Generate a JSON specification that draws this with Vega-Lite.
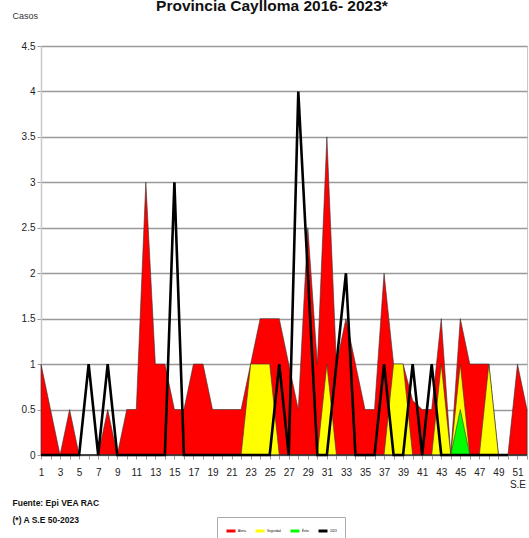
{
  "$schema": "https://vega.github.io/schema/vega-lite/v6.json",
  "width": 486,
  "height": 409,
  "autosize": {"type": "none"},
  "padding": {"left": 41, "top": 46, "right": 2, "bottom": 83},
  "background": "white",
  "title": {
    "text": "Provincia Caylloma 2016- 2023*",
    "font": "Liberation Sans Narrow, Arial Narrow, Liberation Sans, sans-serif",
    "fontSize": 15.5,
    "fontWeight": "bold",
    "color": "#111",
    "anchor": "middle",
    "dx": -12,
    "dy": 3,
    "offset": 0
  },
  "config": {
    "view": {"stroke": "#c8c8c8", "strokeWidth": 1},
    "font": "Liberation Sans Narrow, Arial Narrow, Liberation Sans, sans-serif"
  },
  "data": {
    "values": [
      {"semana": 1, "Alerta": 1, "Seguridad": 0, "Exito": 0, "Casos": 0},
      {"semana": 2, "Alerta": 0.5, "Seguridad": 0, "Exito": 0, "Casos": 0},
      {"semana": 3, "Alerta": 0, "Seguridad": 0, "Exito": 0, "Casos": 0},
      {"semana": 4, "Alerta": 0.5, "Seguridad": 0, "Exito": 0, "Casos": 0},
      {"semana": 5, "Alerta": 0, "Seguridad": 0, "Exito": 0, "Casos": 0},
      {"semana": 6, "Alerta": 0, "Seguridad": 0, "Exito": 0, "Casos": 1},
      {"semana": 7, "Alerta": 0, "Seguridad": 0, "Exito": 0, "Casos": 0},
      {"semana": 8, "Alerta": 0.5, "Seguridad": 0, "Exito": 0, "Casos": 1},
      {"semana": 9, "Alerta": 0, "Seguridad": 0, "Exito": 0, "Casos": 0},
      {"semana": 10, "Alerta": 0.5, "Seguridad": 0, "Exito": 0, "Casos": 0},
      {"semana": 11, "Alerta": 0.5, "Seguridad": 0, "Exito": 0, "Casos": 0},
      {"semana": 12, "Alerta": 3, "Seguridad": 0, "Exito": 0, "Casos": 0},
      {"semana": 13, "Alerta": 1, "Seguridad": 0, "Exito": 0, "Casos": 0},
      {"semana": 14, "Alerta": 1, "Seguridad": 0, "Exito": 0, "Casos": 0},
      {"semana": 15, "Alerta": 0.5, "Seguridad": 0, "Exito": 0, "Casos": 3},
      {"semana": 16, "Alerta": 0.5, "Seguridad": 0, "Exito": 0, "Casos": 0},
      {"semana": 17, "Alerta": 1, "Seguridad": 0, "Exito": 0, "Casos": 0},
      {"semana": 18, "Alerta": 1, "Seguridad": 0, "Exito": 0, "Casos": 0},
      {"semana": 19, "Alerta": 0.5, "Seguridad": 0, "Exito": 0, "Casos": 0},
      {"semana": 20, "Alerta": 0.5, "Seguridad": 0, "Exito": 0, "Casos": 0},
      {"semana": 21, "Alerta": 0.5, "Seguridad": 0, "Exito": 0, "Casos": 0},
      {"semana": 22, "Alerta": 0.5, "Seguridad": 0, "Exito": 0, "Casos": 0},
      {"semana": 23, "Alerta": 1, "Seguridad": 1, "Exito": 0, "Casos": 0},
      {"semana": 24, "Alerta": 1.5, "Seguridad": 1, "Exito": 0, "Casos": 0},
      {"semana": 25, "Alerta": 1.5, "Seguridad": 1, "Exito": 0, "Casos": 0},
      {"semana": 26, "Alerta": 1.5, "Seguridad": 0, "Exito": 0, "Casos": 1},
      {"semana": 27, "Alerta": 1, "Seguridad": 0, "Exito": 0, "Casos": 0},
      {"semana": 28, "Alerta": 0.5, "Seguridad": 0, "Exito": 0, "Casos": 4},
      {"semana": 29, "Alerta": 2.5, "Seguridad": 0, "Exito": 0, "Casos": 2},
      {"semana": 30, "Alerta": 1, "Seguridad": 0, "Exito": 0, "Casos": 0},
      {"semana": 31, "Alerta": 3.5, "Seguridad": 1, "Exito": 0, "Casos": 0},
      {"semana": 32, "Alerta": 1, "Seguridad": 0, "Exito": 0, "Casos": 1},
      {"semana": 33, "Alerta": 1.5, "Seguridad": 0, "Exito": 0, "Casos": 2},
      {"semana": 34, "Alerta": 1, "Seguridad": 0, "Exito": 0, "Casos": 0},
      {"semana": 35, "Alerta": 0.5, "Seguridad": 0, "Exito": 0, "Casos": 0},
      {"semana": 36, "Alerta": 0.5, "Seguridad": 0, "Exito": 0, "Casos": 0},
      {"semana": 37, "Alerta": 2, "Seguridad": 0, "Exito": 0, "Casos": 1},
      {"semana": 38, "Alerta": 1, "Seguridad": 1, "Exito": 0, "Casos": 0},
      {"semana": 39, "Alerta": 1, "Seguridad": 1, "Exito": 0, "Casos": 0},
      {"semana": 40, "Alerta": 0.6, "Seguridad": 0, "Exito": 0, "Casos": 1},
      {"semana": 41, "Alerta": 0.5, "Seguridad": 0, "Exito": 0, "Casos": 0},
      {"semana": 42, "Alerta": 0.5, "Seguridad": 0, "Exito": 0, "Casos": 1},
      {"semana": 43, "Alerta": 1.5, "Seguridad": 1, "Exito": 0, "Casos": 0},
      {"semana": 44, "Alerta": 0, "Seguridad": 0, "Exito": 0, "Casos": 0},
      {"semana": 45, "Alerta": 1.5, "Seguridad": 1, "Exito": 0.5, "Casos": 0},
      {"semana": 46, "Alerta": 1, "Seguridad": 0, "Exito": 0, "Casos": 0},
      {"semana": 47, "Alerta": 1, "Seguridad": 0, "Exito": 0, "Casos": 0},
      {"semana": 48, "Alerta": 1, "Seguridad": 1, "Exito": 0, "Casos": 0},
      {"semana": 49, "Alerta": 0, "Seguridad": 0, "Exito": 0, "Casos": 0},
      {"semana": 50, "Alerta": 0, "Seguridad": 0, "Exito": 0, "Casos": 0},
      {"semana": 51, "Alerta": 1, "Seguridad": 0, "Exito": 0},
      {"semana": 52, "Alerta": 0.5, "Seguridad": 0, "Exito": 0}
    ]
  },
  "encoding": {
    "x": {
      "field": "semana",
      "type": "quantitative",
      "scale": {"domain": [1, 52], "nice": false, "zero": false},
      "axis": {
        "values": [1,2,3,4,5,6,7,8,9,10,11,12,13,14,15,16,17,18,19,20,21,22,23,24,25,26,27,28,29,30,31,32,33,34,35,36,37,38,39,40,41,42,43,44,45,46,47,48,49,50,51,52],
        "labelExpr": "datum.value == 51 ? ['51', 'S.E'] : (datum.value % 2 == 1 ? datum.label : '')",
        "labelOverlap": false,
        "labelFlush": false,
        "labelFontSize": 10,
        "labelColor": "#222",
        "labelPadding": 8,
        "labelLineHeight": 12,
        "labelBaseline": "top",
        "tickSize": 4,
        "tickColor": "#999",
        "domain": false,
        "grid": false,
        "title": ["Fuente: Epi VEA RAC", "(*) A S.E 50-2023"],
        "titleAnchor": "start",
        "titleAlign": "left",
        "titleBaseline": "top",
        "titleX": -29,
        "titleY": 43,
        "titleFontSize": 8.5,
        "titleFontWeight": "bold",
        "titleLineHeight": 17,
        "titleColor": "#111"
      }
    }
  },
  "layer": [
    {
      "mark": {"type": "area", "stroke": "#333", "strokeWidth": 0.6, "interpolate": "linear", "opacity": 1},
      "encoding": {
        "y": {
          "field": "Alerta",
          "type": "quantitative",
          "scale": {"domain": [0, 4.5], "nice": false},
          "axis": {
            "values": [0, 0.5, 1, 1.5, 2, 2.5, 3, 3.5, 4, 4.5],
            "format": "~g",
            "grid": true,
            "gridColor": "#999",
            "gridWidth": 1.4,
            "domainColor": "#c8c8c8",
            "domainWidth": 1.5,
            "tickColor": "#999",
            "tickSize": 4,
            "labelFontSize": 10,
            "labelColor": "#222",
            "labelPadding": 2,
            "title": "Casos",
            "titleAngle": 0,
            "titleAlign": "left",
            "titleBaseline": "middle",
            "titleX": -29,
            "titleY": -31,
            "titleFontSize": 9,
            "titleFontWeight": "normal",
            "titleColor": "#333"
          }
        },
        "color": {
          "datum": "Alerta",
          "type": "nominal",
          "scale": {"domain": ["Alerta", "Seguridad", "Éxito", "2023"], "range": ["#ff0000", "#ffff00", "#00ff00", "#000000"]},
          "legend": {
            "orient": "none",
            "legendX": 176,
            "legendY": 471,
            "direction": "horizontal",
            "gridAlign": "none",
            "title": null,
            "strokeColor": "#aaa",
            "fillColor": "white",
            "padding": 8,
            "symbolType": "stroke",
            "symbolStrokeWidth": 3,
            "symbolSize": 81,
            "labelFontSize": 3,
            "labelOffset": 1,
            "columnPadding": 3
          }
        }
      }
    },
    {
      "mark": {"type": "area", "stroke": "#333", "strokeWidth": 0.6, "interpolate": "linear"},
      "encoding": {
        "y": {"field": "Seguridad", "type": "quantitative"},
        "color": {"datum": "Seguridad", "type": "nominal"}
      }
    },
    {
      "mark": {"type": "area", "stroke": "#333", "strokeWidth": 0.6, "interpolate": "linear"},
      "encoding": {
        "y": {"field": "Exito", "type": "quantitative"},
        "color": {"datum": "Éxito", "type": "nominal"}
      }
    },
    {
      "mark": {"type": "line", "strokeWidth": 2.6, "interpolate": "linear"},
      "encoding": {
        "y": {"field": "Casos", "type": "quantitative"},
        "color": {"datum": "2023", "type": "nominal"}
      }
    }
  ]
}
